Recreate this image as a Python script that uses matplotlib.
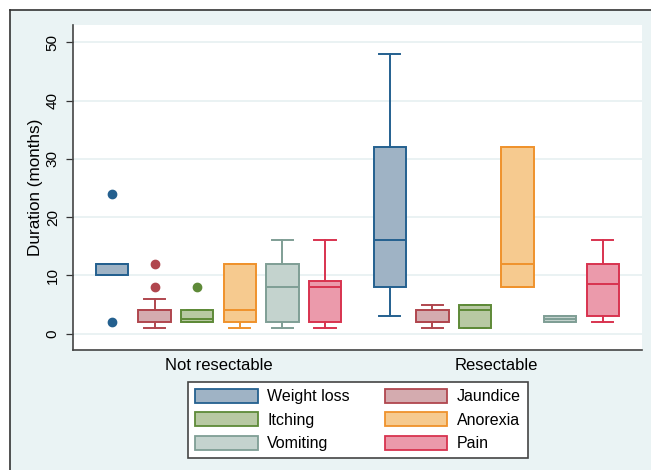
import matplotlib
matplotlib.use("Agg")
import matplotlib.pyplot as plt
from matplotlib.patches import Patch, Rectangle
from matplotlib.lines import Line2D

plt.rcParams['font.family'] = ['Liberation Sans', 'DejaVu Sans']

# ---- data -------------------------------------------------------------
groups = ["Not resectable", "Resectable"]
symptoms = ["Weight loss", "Jaundice", "Itching", "Anorexia", "Vomiting", "Pain"]

# Not resectable
lo_nr = [10, 1, 2, 1, 1, 1]
q1_nr = [10, 2, 2, 2, 2, 2]
med_nr = [12, 4, 2.5, 4, 8, 8]
q3_nr = [12, 4, 4, 12, 12, 9]
hi_nr = [12, 6, 4, 12, 16, 16]
out_nr = [[2, 24], [8, 12], [8], [], [], []]

# Resectable
lo_r = [3, 1, 1, 8, 2, 2]
q1_r = [8, 2, 1, 8, 2, 3]
med_r = [16, 2, 4, 12, 2.5, 8.5]
q3_r = [32, 4, 5, 32, 3, 12]
hi_r = [48, 5, 5, 32, 3, 16]
out_r = [[], [], [], [], [], []]

y_ticks = [0, 10, 20, 30, 40, 50]

# ---- styling ----------------------------------------------------------
edge_colors = ["#24608f", "#b0464e", "#5e8a38", "#ef922c", "#7f9e95", "#d8334f"]
fill_colors = ["#9fb3c5", "#d4abaf", "#b8c9a3", "#f6ca8f", "#c4d3ce", "#eb9aab"]
bg = "#eaf3f4"

W, H = 651, 470
fig = plt.figure(figsize=(W / 100, H / 100), dpi=100, facecolor="white")

# graph region background with border on top and left
fig.patches.append(Rectangle((10 / W, 0), 1, 1 - 10 / H, transform=fig.transFigure,
                             facecolor=bg, edgecolor="none", zorder=-10))
fig.lines.append(Line2D([10 / W, 1], [1 - 10 / H, 1 - 10 / H], transform=fig.transFigure,
                        color="#333333", lw=1.2, zorder=-5))
fig.lines.append(Line2D([10 / W, 10 / W], [0, 1 - 10 / H], transform=fig.transFigure,
                        color="#333333", lw=1.2, zorder=-5))

left, right, top, bottom = 73, 641.5, 25, 350
ax = fig.add_axes([left / W, 1 - bottom / H, (right - left) / W, (bottom - top) / H])
ax.set_zorder(1)
ax.set_facecolor("white")

gap = 6.52
pos_nr = list(range(6))
pos_r = [gap + i for i in range(6)]

def stats(lo, q1, med, q3, hi, out):
    return [dict(whislo=a, q1=b, med=c, q3=d, whishi=e, fliers=f)
            for a, b, c, d, e, f in zip(lo, q1, med, q3, hi, out)]

all_stats = stats(lo_nr, q1_nr, med_nr, q3_nr, hi_nr, out_nr) + \
            stats(lo_r, q1_r, med_r, q3_r, hi_r, out_r)
positions = pos_nr + pos_r

for i, (st, p) in enumerate(zip(all_stats, positions)):
    k = i % 6
    ec, fc = edge_colors[k], fill_colors[k]
    ax.bxp([st], positions=[p], widths=0.76, capwidths=0.5, patch_artist=True,
           showfliers=True,
           boxprops=dict(facecolor=fc, edgecolor=ec, linewidth=1.4),
           medianprops=dict(color=ec, linewidth=1.4),
           whiskerprops=dict(color=ec, linewidth=1.4),
           capprops=dict(color=ec, linewidth=1.4),
           flierprops=dict(marker="o", markerfacecolor=ec, markeredgecolor=ec,
                           markersize=6),
           manage_ticks=False, zorder=3)

ax.set_xlim(-0.915, 12.43)
ax.set_ylim(-2.8, 52.97)
ax.set_yticks(y_ticks)
ax.set_yticklabels([str(v) for v in y_ticks], rotation=90, va="center", fontsize=11)
ax.set_xticks([2.5, gap + 2.5])
ax.set_xticklabels(groups, fontsize=12)
ax.tick_params(axis="x", length=0, pad=6)
ax.tick_params(axis="y", length=5, width=0.9, color="#333333", pad=4.5)
ax.set_ylabel("Duration (months)", fontsize=12.3, labelpad=2)

ax.yaxis.grid(True, color="#e6f0f1", linewidth=1.2, zorder=0)
ax.set_axisbelow(True)
for s in ["top", "right"]:
    ax.spines[s].set_visible(False)
for s in ["left", "bottom"]:
    ax.spines[s].set_color("#444444")
    ax.spines[s].set_linewidth(1.2)

# legend
order = [0, 2, 4, 1, 3, 5]
handles = [Patch(facecolor=fill_colors[k], edgecolor=edge_colors[k], linewidth=1.3)
           for k in order]
labels = [symptoms[k] for k in order]
leg = fig.legend(handles, labels, ncol=2, loc="center",
                 bbox_to_anchor=(358 / W, 1 - 420 / H),
                 fontsize=11.5, frameon=True, fancybox=False, framealpha=1,
                 handlelength=3.9, handleheight=0.98, handletextpad=0.6,
                 columnspacing=2.2, labelspacing=0.5, borderpad=0.45)
leg.get_frame().set_edgecolor("#444444")
leg.get_frame().set_linewidth(1.2)
leg.get_frame().set_facecolor("white")

fig.savefig("out.png", dpi=100, facecolor="white")
